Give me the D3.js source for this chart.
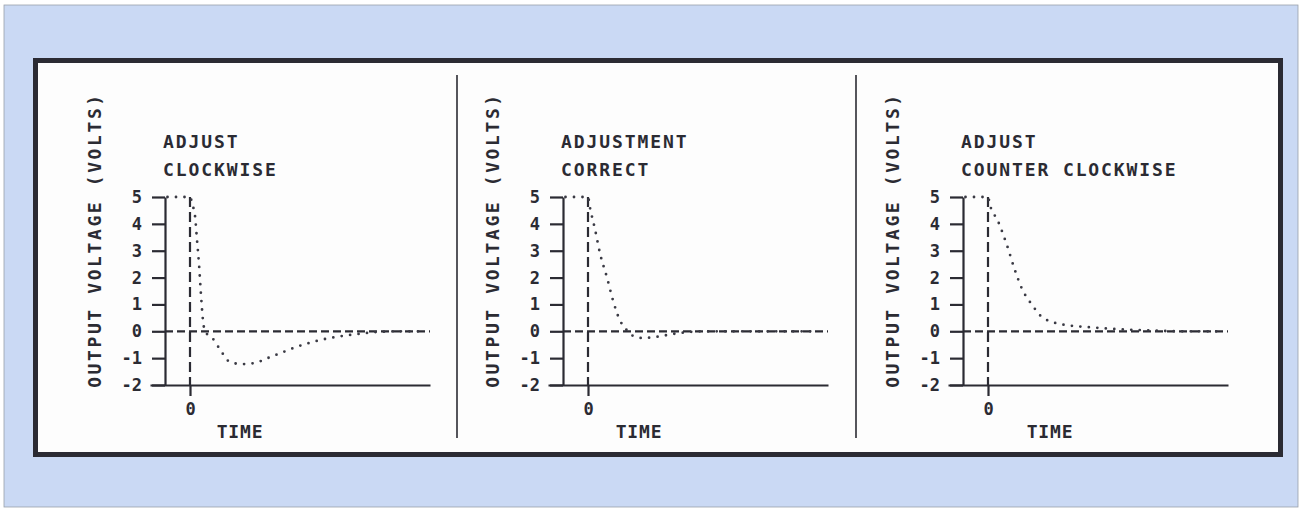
<!DOCTYPE html>
<html><head><meta charset="utf-8">
<script src="https://cdn.jsdelivr.net/npm/d3@7/dist/d3.min.js"></script>
<style>
html,body{margin:0;padding:0;background:#fff;}
svg{display:block;}
text{font-family:"DejaVu Sans Mono",monospace;font-weight:bold;fill:#2b2b33;}
</style></head>
<body>
<svg id="chart" width="1300" height="511"></svg>
<script>
// ---- data ----
const panelTitles = [["ADJUST","CLOCKWISE"],["ADJUSTMENT","CORRECT"],["ADJUST","COUNTER CLOCKWISE"]];
const yTickValues = [-2,-1,0,1,2,3,4,5];
const xTickValues = [0];
const yAxisTitle = "OUTPUT VOLTAGE (VOLTS)";
const xAxisTitle = "TIME";
// time (arbitrary units) / voltage pairs
const timeCW  = [-0.9,-0.5,0,0.1,0.2,0.28,0.36,0.44,0.52,0.6,0.9,1.3,1.6,2.1,2.6,3.1,3.6,4.2,4.9,5.6,6.3,7.0,7.6,8.5,9.2];
const voltCW  = [5,5,5,4.7,4.3,3.4,2.5,1.35,0.4,0,-0.26,-0.82,-1.15,-1.22,-1.18,-1.0,-0.82,-0.6,-0.4,-0.25,-0.15,-0.07,-0.02,0,0];
const timeOK  = [-0.9,-0.5,0,0.08,0.28,0.48,0.76,1.0,1.28,1.5,1.76,2.2,2.8,3.4,3.9,4.6,9.2];
const voltOK  = [5,5,5,4.6,3.8,2.9,2.0,1.15,0.4,0.1,-0.15,-0.25,-0.2,-0.1,-0.04,0,0];
const timeCCW = [-0.9,-0.5,0,0.08,0.4,0.76,1.05,1.35,1.75,2.2,3.0,4.1,5.2,6.5,7.7,9.2];
const voltCCW = [5,5,5,4.7,4.1,3.2,2.35,1.6,1.0,0.5,0.25,0.15,0.08,0.03,0,0];
const seriesTimes = [timeCW, timeOK, timeCCW];
const seriesVolts = [voltCW, voltOK, voltCCW];

// ---- layout ----
const panelOffsets = [0, 398, 798];
const timeLabelOffsets = [50, 51, 62];
const ink = "#2b2b33";

const svg = d3.select("#chart");
svg.append("rect").attr("x",4).attr("y",5).attr("width",1294).attr("height",502)
  .attr("fill","#cad9f4").attr("stroke","#9aa0aa").attr("stroke-width",0.8);
svg.append("rect").attr("x",35.5).attr("y",60.5).attr("width",1245).attr("height",394)
  .attr("fill","#fdfdfd").attr("stroke",ink).attr("stroke-width",5);
[457, 856].forEach(x=>{
  svg.append("line").attr("x1",x).attr("x2",x).attr("y1",75).attr("y2",438)
    .attr("stroke",ink).attr("stroke-width",1.6);
});

const x = d3.scaleLinear().domain([-1.6, 9.6]).range([150, 430]);
const y = d3.scaleLinear().domain([-2, 5]).range([385, 197]);

panelTitles.forEach((title, i) => {
  const g = svg.append("g").attr("transform", `translate(${panelOffsets[i]},0)`);
  const ax = x(-1);

  // y axis
  const ya = g.append("g").attr("transform",`translate(${ax},0)`)
    .call(d3.axisLeft(y).tickValues(yTickValues).tickSize(13).tickSizeOuter(0).tickPadding(10).tickFormat(d3.format("d")));
  ya.select(".domain").attr("stroke",ink).attr("stroke-width",2.2);
  ya.selectAll(".tick line").attr("stroke",ink).attr("stroke-width",2.2);
  ya.selectAll(".tick text").attr("font-size",17).attr("font-family",null).attr("fill",ink).text(d=>String(d).replace("−","-"));

  // x axis at y=-2
  const xa = g.append("g").attr("transform",`translate(0,${y(-2)})`)
    .call(d3.axisBottom(x).tickValues(xTickValues).tickSize(11).tickSizeOuter(0).tickPadding(7).tickFormat(d3.format("d")));
  xa.select(".domain").attr("stroke",ink).attr("stroke-width",2.2);
  xa.selectAll(".tick line").attr("stroke",ink).attr("stroke-width",2.2);
  xa.selectAll(".tick text").attr("font-size",17).attr("font-family",null).attr("fill",ink);

  // zero reference dashed line
  g.append("line").attr("x1",ax).attr("x2",x(9.6)).attr("y1",y(0)).attr("y2",y(0))
    .attr("stroke",ink).attr("stroke-width",2.2).attr("stroke-dasharray","8 4");
  // time zero dashed line
  g.append("line").attr("x1",x(0)).attr("x2",x(0)).attr("y1",y(5)).attr("y2",y(-2))
    .attr("stroke",ink).attr("stroke-width",2.2).attr("stroke-dasharray","10 5");

  // dotted response curve
  const pts = seriesTimes[i].map((t,k)=>[t, seriesVolts[i][k]]);
  g.append("path").datum(pts)
    .attr("d", d3.line().x(d=>x(d[0])).y(d=>y(d[1])).curve(d3.curveMonotoneX))
    .attr("fill","none").attr("stroke","#3a3a44").attr("stroke-width",2.8)
    .attr("stroke-linecap","round").attr("stroke-dasharray","0 8.5");

  // titles
  title.forEach((t,k)=>{
    g.append("text").attr("x",ax-2).attr("y",148+28*k).attr("font-size",18)
      .attr("letter-spacing",1.9).text(t);
  });
  // y axis title
  g.append("text").attr("transform",`translate(${ax-64},240) rotate(-90)`)
    .attr("text-anchor","middle").attr("font-size",18).attr("letter-spacing",2.6).text(yAxisTitle);
  // x axis title
  g.append("text").attr("x",x(0)+timeLabelOffsets[i]).attr("y",438).attr("text-anchor","middle")
    .attr("font-size",18).attr("letter-spacing",0.8).text(xAxisTitle);
});
</script>
</body></html>
